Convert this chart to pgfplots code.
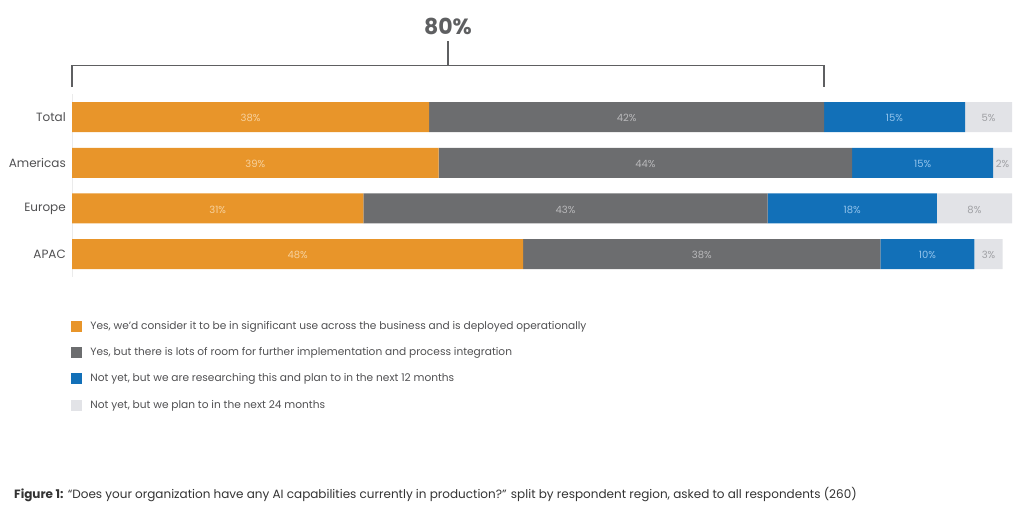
\documentclass[border=0pt]{standalone}
\usepackage{fontspec}
\setmainfont{Poppins}
\usepackage{pgfplots}
\pgfplotsset{compat=1.18}
\definecolor{cOr}{HTML}{E8952A}
\definecolor{cGr}{HTML}{6C6D6F}
\definecolor{cBl}{HTML}{1270B8}
\definecolor{cLt}{HTML}{E2E3E7}
\definecolor{tOr}{HTML}{F7D29E}
\definecolor{tGr}{HTML}{B9B9BB}
\definecolor{tBl}{HTML}{93C4EC}
\definecolor{tLt}{HTML}{9FA0A4}
\definecolor{txt}{HTML}{505052}
\definecolor{brk}{HTML}{5E5F61}
\begin{document}
\begin{tikzpicture}[x=1pt,y=1pt]
\useasboundingbox (0,0) rectangle (1024,507);
\begin{axis}[
  at={(72pt,230pt)}, anchor=south west,
  scale only axis, width=940pt, height=182.8pt,
  xbar stacked, bar width=30pt,
  xmin=0, xmax=100, ymin=-0.5, ymax=3.5, y dir=reverse,
  ytick={0,1,2,3}, yticklabels={Total,Americas,Europe,APAC},
  yticklabel style={font=\fontsize{12}{14}\selectfont, text=txt, inner sep=0pt, xshift=-6pt},
  major tick length=0pt,
  xtick=\empty,
  axis x line=none,
  axis y line*=left, y axis line style={draw=black!8, line width=0.8pt},
  clip=false,
  /pgf/number format/assume math mode=true,
  point meta=rawx,
  nodes near coords={\pgfmathprintnumber{\pgfplotspointmeta}\%},
  every node near coord/.append style={anchor=center, font=\fontsize{10}{12}\selectfont, yshift=-1pt},
  legend image code/.code={\fill[#1] (0pt,-5.5pt) rectangle (11pt,5.5pt);},
  legend cell align=left,
  legend style={at={(-0.004,-0.228)}, anchor=north west, draw=none, fill=none,
    font=\fontsize{10.6}{12}\selectfont, text=txt,
    nodes={inner sep=0pt, text height=8pt, text depth=2pt, anchor=west},
    row sep=15.3pt, /tikz/every odd column/.append style={column sep=8pt}},
]
\addplot[fill=cOr, draw=none, every node near coord/.append style={text=tOr}] coordinates {(38,0) (39,1) (31,2) (48,3)};
\addlegendentry{Yes, we'd consider it to be in significant use across the business and is deployed operationally}
\addplot[fill=cGr, draw=none, every node near coord/.append style={text=tGr}] coordinates {(42,0) (44,1) (43,2) (38,3)};
\addlegendentry{Yes, but there is lots of room for further implementation and process integration}
\addplot[fill=cBl, draw=none, every node near coord/.append style={text=tBl}] coordinates {(15,0) (15,1) (18,2) (10,3)};
\addlegendentry{Not yet, but we are researching this and plan to in the next 12 months}
\addplot[fill=cLt, draw=none, every node near coord/.append style={text=tLt}] coordinates {(5,0) (2,1) (8,2) (3,3)};
\addlegendentry{Not yet, but we plan to in the next 24 months}
\draw[brk, line width=1.1pt] (axis cs:0,-0.653) -- (axis cs:0,-1.135) -- (axis cs:80,-1.135) -- (axis cs:80,-0.653);
\draw[brk, line width=1.1pt] (axis cs:40,-1.135) -- (axis cs:40,-1.66);
\node[font=\bfseries\fontsize{22}{26}\selectfont, text=brk] at (axis cs:40,-1.99) {80\%};
\end{axis}
\node[anchor=base west, font=\fontsize{12}{14}\selectfont, text=black!80, inner sep=0pt] at (14pt,9pt) {\textbf{Figure 1:} “Does your organization have any AI capabilities currently in production?” split by respondent region, asked to all respondents (260)};
\end{tikzpicture}
\end{document}
